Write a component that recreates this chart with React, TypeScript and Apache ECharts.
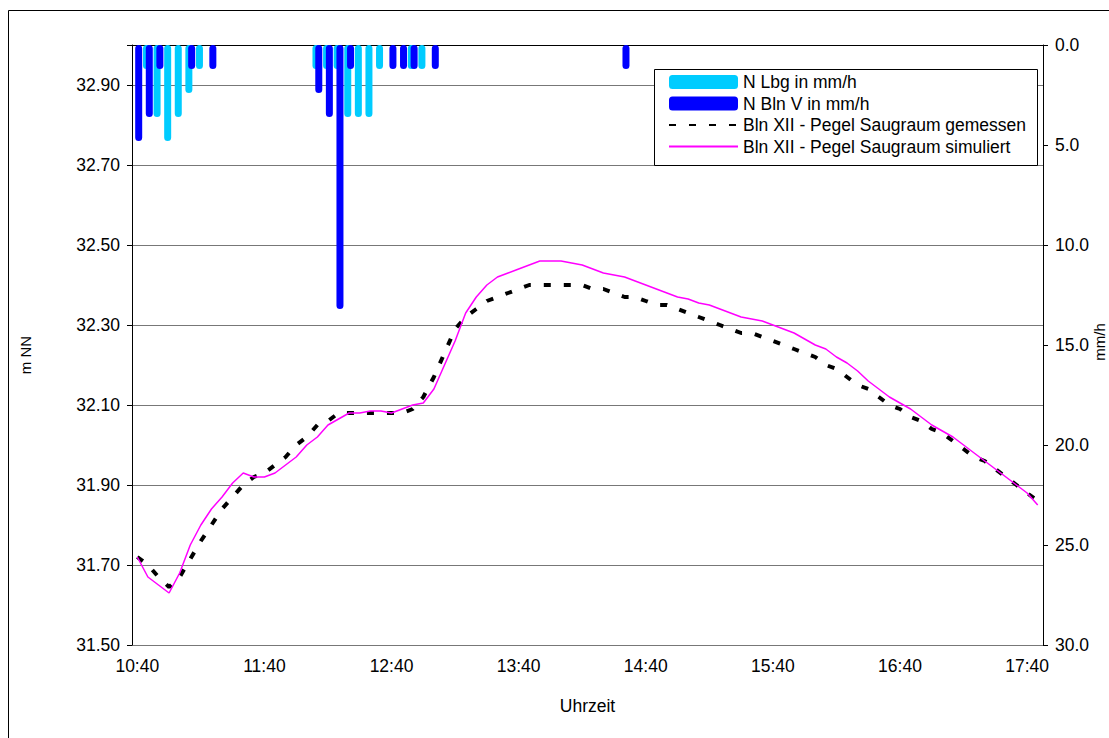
import React, { useEffect, useRef } from "react";
import * as echarts from "echarts";

const FONT = "'Liberation Sans', Arial, sans-serif";

// 5-minute time steps (categories)
const times = [
  "10:40", "10:45", "10:50", "10:55", "11:00", "11:05", "11:10", "11:15", "11:20", "11:25", "11:30", "11:35",
  "11:40", "11:45", "11:50", "11:55", "12:00", "12:05", "12:10", "12:15", "12:20", "12:25", "12:30", "12:35",
  "12:40", "12:45", "12:50", "12:55", "13:00", "13:05", "13:10", "13:15", "13:20", "13:25", "13:30", "13:35",
  "13:40", "13:45", "13:50", "13:55", "14:00", "14:05", "14:10", "14:15", "14:20", "14:25", "14:30", "14:35",
  "14:40", "14:45", "14:50", "14:55", "15:00", "15:05", "15:10", "15:15", "15:20", "15:25", "15:30", "15:35",
  "15:40", "15:45", "15:50", "15:55", "16:00", "16:05", "16:10", "16:15", "16:20", "16:25", "16:30", "16:35",
  "16:40", "16:45", "16:50", "16:55", "17:00", "17:05", "17:10", "17:15", "17:20", "17:25", "17:30", "17:35",
  "17:40", "17:45",
];

// N Lbg in mm/h
const rainLbg = [
  null, 1.2, 3.6, 4.8, 3.6, 2.4, 1.2, null, null, null, null, null,
  null, null, null, null, null, 1.2, 1.2, 1.2, 3.6, 3.6, 3.6, 1.2,
  null, null, 1.2, 1.2, null, null, null, null, null, null, null, null,
  null, null, null, null, null, null, null, null, null, null, null, null,
  null, null, null, null, null, null, null, null, null, null, null, null,
  null, null, null, null, null, null, null, null, null, null, null, null,
  null, null, null, null, null, null, null, null, null, null, null, null,
  null, null,
];

// N Bln V in mm/h
const rainBlnV = [
  4.8, 3.6, 1.2, null, null, 1.2, null, 1.2, null, null, null, null,
  null, null, null, null, null, 2.4, 3.6, 13.2, 1.2, null, null, null,
  1.2, 1.2, 1.2, null, 1.2, null, null, null, null, null, null, null,
  null, null, null, null, null, null, null, null, null, null, 1.2, null,
  null, null, null, null, null, null, null, null, null, null, null, null,
  null, null, null, null, null, null, null, null, null, null, null, null,
  null, null, null, null, null, null, null, null, null, null, null, null,
  null, null,
];

// Bln XII - Pegel Saugraum gemessen (m NN)
const levelMeasured = [
  31.72, 31.70, 31.67, 31.645, 31.67, 31.715, 31.76, 31.80, 31.84, 31.87, 31.90, 31.92,
  31.93, 31.95, 31.97, 32.00, 32.02, 32.05, 32.06, 32.08, 32.08, 32.08, 32.08, 32.08,
  32.08, 32.08, 32.09, 32.12, 32.17, 32.23, 32.29, 32.32, 32.34, 32.36, 32.37, 32.38,
  32.39, 32.40, 32.40, 32.40, 32.40, 32.40, 32.40, 32.39, 32.39, 32.38, 32.37, 32.37,
  32.36, 32.35, 32.35, 32.34, 32.33, 32.32, 32.31, 32.30, 32.29, 32.28, 32.28, 32.27,
  32.26, 32.25, 32.24, 32.23, 32.22, 32.20, 32.19, 32.17, 32.15, 32.14, 32.12, 32.10,
  32.09, 32.07, 32.06, 32.04, 32.03, 32.01, 31.99, 31.97, 31.96, 31.94, 31.92, 31.90,
  31.88, 31.86,
];

// Bln XII - Pegel Saugraum simuliert (m NN)
const levelSimulated = [
  31.72, 31.67, 31.65, 31.63, 31.68, 31.75, 31.80, 31.84, 31.87, 31.905, 31.93, 31.92,
  31.92, 31.93, 31.95, 31.97, 32.00, 32.02, 32.05, 32.065, 32.08, 32.08, 32.085, 32.085,
  32.08, 32.09, 32.10, 32.105, 32.14, 32.20, 32.26, 32.33, 32.37, 32.40, 32.42, 32.43,
  32.44, 32.45, 32.46, 32.46, 32.46, 32.455, 32.45, 32.44, 32.43, 32.425, 32.42, 32.41,
  32.40, 32.39, 32.38, 32.37, 32.365, 32.355, 32.35, 32.34, 32.33, 32.32, 32.315, 32.31,
  32.30, 32.29, 32.28, 32.265, 32.25, 32.24, 32.22, 32.205, 32.185, 32.16, 32.14, 32.12,
  32.105, 32.09, 32.07, 32.05, 32.035, 32.02, 32.00, 31.98, 31.96, 31.94, 31.92, 31.90,
  31.88, 31.85,
];

const seriesNames = [
  "N Lbg in mm/h",
  "N Bln V in mm/h",
  "Bln XII - Pegel Saugraum gemessen",
  "Bln XII - Pegel Saugraum simuliert",
];

export default function App() {
  const ref = useRef<HTMLDivElement>(null);

  useEffect(() => {
    if (!ref.current) return;
    const chart = echarts.init(ref.current, undefined, { renderer: "svg" });
    const txt = { color: "#000", fontFamily: FONT, fontSize: 17.5 };
    const hiddenSymbol = { color: "rgba(0,0,0,0)", opacity: 0, borderWidth: 0 };
    chart.setOption({
      animation: false,
      backgroundColor: "#fff",
      grid: { left: 132, right: 66, top: 45, bottom: 93, containLabel: false },
      legend: {
        orient: "vertical",
        left: 668,
        top: 73,
        padding: 0,
        itemWidth: 69,
        itemHeight: 14,
        itemGap: 3.5,
        z: 20,
        textStyle: { ...txt },
        data: [
          { name: seriesNames[0], icon: "roundRect" },
          { name: seriesNames[1], icon: "roundRect" },
          { name: seriesNames[2], itemStyle: hiddenSymbol },
          { name: seriesNames[3], itemStyle: hiddenSymbol },
        ],
      },
      graphic: [
        {
          type: "rect",
          silent: true,
          z: -10,
          shape: { x: 8.5, y: 10.5, width: 1200, height: 800 },
          style: { fill: "none", stroke: "#000", lineWidth: 1 },
        },
        {
          type: "rect",
          silent: true,
          z: 10,
          shape: { x: 654.5, y: 69.5, width: 383, height: 96 },
          style: { fill: "#fff", stroke: "#000", lineWidth: 1 },
        },
        {
          type: "text",
          silent: true,
          x: 25,
          y: 355,
          rotation: Math.PI / 2,
          style: {
            text: "m NN",
            fill: "#000",
            font: `15px ${FONT}`,
            align: "center",
            verticalAlign: "middle",
          },
        },
        {
          type: "text",
          silent: true,
          x: 1099,
          y: 342,
          rotation: Math.PI / 2,
          style: {
            text: "mm/h",
            fill: "#000",
            font: `15px ${FONT}`,
            align: "center",
            verticalAlign: "middle",
          },
        },
      ],
      xAxis: {
        type: "category",
        data: times,
        boundaryGap: true,
        axisLine: { lineStyle: { color: "#000", width: 1 } },
        axisTick: { interval: 2, length: 5, lineStyle: { color: "#000" } },
        axisLabel: { ...txt, interval: 11, margin: 12 },
        splitLine: { show: false },
        name: "Uhrzeit",
        nameLocation: "middle",
        nameGap: 52,
        nameTextStyle: txt,
      },
      yAxis: [
        {
          type: "value",
          position: "left",
          min: 31.5,
          max: 33.0,
          interval: 0.2,
          axisLine: { show: true, lineStyle: { color: "#000", width: 1 } },
          axisTick: { show: true, length: 5, lineStyle: { color: "#000" } },
          axisLabel: {
            ...txt,
            margin: 12,
            formatter: (v: number) => (v > 32.95 ? "" : v.toFixed(2)),
          },
          splitLine: { show: true, lineStyle: { color: "#777", width: 1 } },
        },
        {
          type: "value",
          position: "right",
          min: 0,
          max: 30,
          interval: 5,
          inverse: true,
          axisLine: { show: true, lineStyle: { color: "#000", width: 1 } },
          axisTick: { show: true, length: 5, lineStyle: { color: "#000" } },
          axisLabel: { ...txt, margin: 12, formatter: (v: number) => v.toFixed(1) },
          splitLine: { show: false },
        },
      ],
      series: [
        {
          name: seriesNames[0],
          type: "bar",
          yAxisIndex: 1,
          data: rainLbg,
          barWidth: 7,
          barGap: "-60%",
          itemStyle: { color: "#00CCFF", borderRadius: 3.5 },
        },
        {
          name: seriesNames[1],
          type: "bar",
          yAxisIndex: 1,
          data: rainBlnV,
          barWidth: 7,
          barGap: "-60%",
          itemStyle: { color: "#0000FF", borderRadius: 3.5 },
        },
        {
          name: seriesNames[2],
          type: "line",
          yAxisIndex: 0,
          data: levelMeasured,
          symbol: "none",
          showSymbol: false,
          z: 3,
          itemStyle: { color: "#000" },
          lineStyle: { color: "#000", width: 4, type: [7, 13] },
        },
        {
          name: seriesNames[3],
          type: "line",
          yAxisIndex: 0,
          data: levelSimulated,
          symbol: "none",
          showSymbol: false,
          z: 4,
          itemStyle: { color: "#FF00FF" },
          lineStyle: { color: "#FF00FF", width: 1.5 },
        },
      ],
    });
    return () => chart.dispose();
  }, []);

  return (
    <div
      ref={ref}
      style={{ position: "fixed", left: 0, top: 0, width: 1109, height: 738, background: "#fff" }}
    />
  );
}
